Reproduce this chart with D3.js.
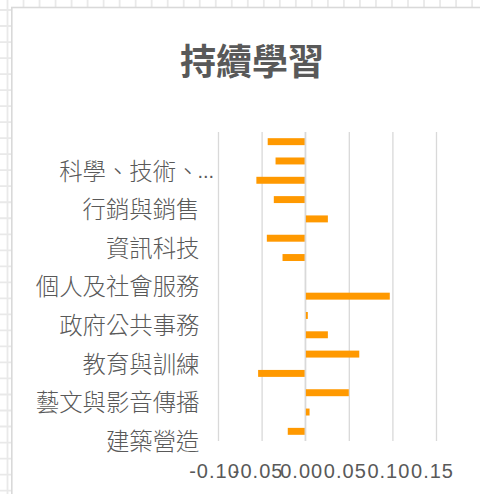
<!DOCTYPE html>
<html>
<head>
<meta charset="utf-8">
<script src="https://cdn.jsdelivr.net/npm/d3@7"></script>
<style>
html,body{margin:0;padding:0;background:#fff;}
svg{display:block;}
</style>
</head>
<body>
<svg id="chart" width="480" height="494"></svg>
<script>
// ---- data (top to bottom as drawn) ----
const categories = [
  "物流運輸",
  "科學、技術、工程、數學",
  "製造",
  "行銷與銷售",
  "金融財務",
  "資訊科技",
  "醫療保健",
  "個人及社會服務",
  "休閒與觀光旅遊",
  "政府公共事務",
  "企業經營管理",
  "教育與訓練",
  "天然資源、食品與農業",
  "藝文與影音傳播",
  "司法、法律與公共安全",
  "建築營造"
];
const values = [
  -0.043, -0.034, -0.056, -0.036,
   0.026, -0.044, -0.026,  0.000,
   0.097,  0.003,  0.026,  0.062,
  -0.054,  0.050,  0.005, -0.020
];
const labelledCategories = [
  "科學、技術、工程、數學",
  "行銷與銷售",
  "資訊科技",
  "個人及社會服務",
  "政府公共事務",
  "教育與訓練",
  "藝文與影音傳播",
  "建築營造"
];
const tickValues = [-0.10, -0.05, 0.00, 0.05, 0.10, 0.15];
const tickLabels = ["-0.10", "-0.05", "0.00", "0.05", "0.10", "0.15"];
const title = "持續學習";

// ---- layout ----
const W = 480, H = 494;
const plot = {left: 218, right: 436, top: 132, bottom: 441};
const textColor = "#595959";
const barColor = "#ff9900";
const gridColor = "#d9d9d9";

const svg = d3.select("#chart");

// spreadsheet background grid
const bg = svg.append("g");
const sp = 16.02;
for (let x = 7.5; x < W; x += sp) {
  bg.append("line").attr("x1", x).attr("x2", x).attr("y1", 0).attr("y2", H)
    .attr("stroke", "#e9e9e9").attr("stroke-width", 1.8);
}
for (let y = 10; y < H; y += sp) {
  bg.append("line").attr("x1", 0).attr("x2", W).attr("y1", y).attr("y2", y)
    .attr("stroke", "#e9e9e9").attr("stroke-width", 1.8);
}

// chart area
svg.append("rect")
  .attr("x", 11.8).attr("y", 7.5).attr("width", 600).attr("height", 600)
  .attr("fill", "#fff").attr("stroke", "#d9d9d9").attr("stroke-width", 1.6);

// scales
const x = d3.scaleLinear().domain([-0.10, 0.15]).range([plot.left, plot.right]);
const y = d3.scaleBand().domain(categories).range([plot.top, plot.bottom])
  .paddingInner(0.64).paddingOuter(0.32);
const step = y.step();

// gridlines
const grid = svg.append("g").attr("transform", `translate(0,${plot.bottom})`)
  .call(d3.axisBottom(x).tickValues(tickValues).tickSize(-(plot.bottom - plot.top)).tickFormat(""));
grid.select(".domain").remove();
grid.selectAll(".tick line").attr("stroke", gridColor).attr("stroke-width", 1.3);

// bars
svg.append("g").selectAll("rect")
  .data(categories.map((c, i) => ({c, v: values[i]})))
  .join("rect")
  .attr("x", d => x(Math.min(0, d.v)))
  .attr("width", d => Math.abs(x(d.v) - x(0)))
  .attr("y", d => y(d.c))
  .attr("height", y.bandwidth())
  .attr("fill", barColor);

// zero line over bars
svg.append("line")
  .attr("x1", x(0)).attr("x2", x(0))
  .attr("y1", plot.top).attr("y2", plot.bottom)
  .attr("stroke", gridColor).attr("stroke-width", 1.3);

// x tick labels
const xa = svg.append("g").attr("transform", `translate(0,${plot.bottom})`)
  .call(d3.axisBottom(x).tickValues(tickValues).tickSize(0).tickPadding(0)
    .tickFormat((d, i) => tickLabels[i]));
xa.select(".domain").remove();
xa.selectAll(".tick text")
  .attr("y", 37).attr("dy", 0).attr("dx", -4)
  .attr("fill", textColor)
  .style("font-family", "'Liberation Sans', Arial, sans-serif")
  .style("font-size", "20px")
  .style("letter-spacing", "1px");

// y category labels
const maxLen = 7;
const ya = svg.append("g").attr("transform", `translate(199.5,0)`)
  .call(d3.axisLeft(y).tickValues(labelledCategories).tickSize(0).tickPadding(0)
    .tickFormat(d => d.length > maxLen ? d.slice(0, 6) : d));
ya.select(".domain").remove();
ya.selectAll(".tick text")
  .attr("y", step / 2).attr("dy", "0.38em")
  .attr("fill", textColor)
  .style("font-family", "'Noto Sans CJK TC', sans-serif")
  .style("font-weight", "300")
  .style("font-size", "23.4px");
ya.selectAll(".tick").filter(d => d.length > maxLen)
  .append("text")
  .attr("x", -2).attr("y", step / 2).attr("dy", "0.38em")
  .attr("text-anchor", "start")
  .attr("fill", textColor)
  .style("font-family", "'Liberation Sans', Arial, sans-serif")
  .style("font-size", "20px")
  .text("...");

// title
svg.append("text")
  .attr("x", 252).attr("y", 74.5)
  .attr("text-anchor", "middle")
  .attr("fill", textColor)
  .style("font-family", "'Noto Sans CJK TC', sans-serif")
  .style("font-weight", "bold")
  .style("font-size", "36px")
  .text(title);
</script>
</body>
</html>
